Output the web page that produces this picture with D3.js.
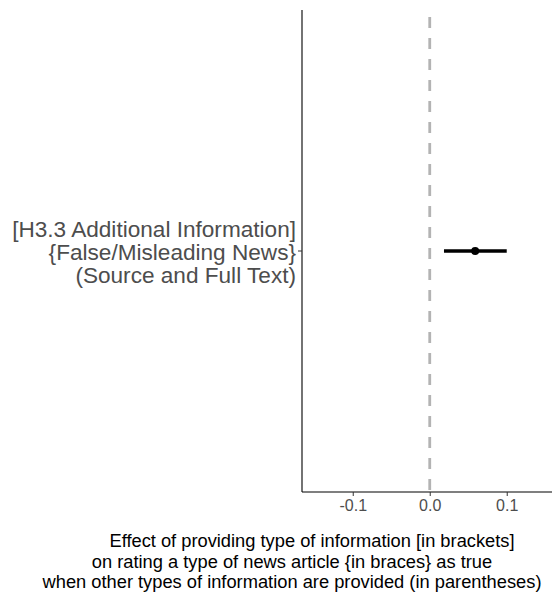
<!DOCTYPE html>
<html>
<head>
<meta charset="utf-8">
<script src="https://cdn.jsdelivr.net/npm/d3@7"></script>
<style>
  body { margin: 0; background: white; }
  svg { display: block; font-family: "Liberation Sans", Arial, sans-serif; }
</style>
</head>
<body>
<div id="chart"></div>
<script>
// Data
var labels = ["[H3.3 Additional Information]", "{False/Misleading News}", "(Source and Full Text)"];
var estimates = [0.059];
var lower = [0.0185];
var upper = [0.100];
var xTicks = [-0.1, 0.0, 0.1];
var xTickLabels = ["-0.1", "0.0", "0.1"];
var xTitle = [
    "Effect of providing type of information [in brackets]",
    "on rating a type of news article {in braces} as true",
    "when other types of information are provided (in parentheses)"
];

var W = 552, H = 592;
var mLeft = 302, mRight = 552, mTop = 10, mBottom = 492;

var svg = d3.select("#chart").append("svg")
    .attr("width", W)
    .attr("height", H);

var x = d3.scaleLinear().domain([-0.1659, 0.1588]).range([mLeft, mRight]);
var y = d3.scaleBand().domain([0]).range([mTop, mBottom]);

// zero reference line
svg.append("line")
    .attr("x1", x(0)).attr("x2", x(0))
    .attr("y1", mTop).attr("y2", mBottom)
    .attr("stroke", "#b3b3b3")
    .attr("stroke-width", 2.8)
    .attr("stroke-dasharray", "11,10")
    .attr("stroke-dashoffset", -7);

// axes
var xAxis = svg.append("g")
    .attr("transform", "translate(0," + mBottom + ")")
    .call(d3.axisBottom(x).tickValues(xTicks).tickSize(4).tickPadding(4)
          .tickFormat(function(d, i) { return xTickLabels[i]; }));
xAxis.select(".domain").attr("stroke", "#000").attr("stroke-width", 1.1).attr("d", "M" + mLeft + ",0H" + mRight);
xAxis.selectAll(".tick line").attr("stroke", "#333");
xAxis.selectAll(".tick text")
    .attr("fill", "#4d4d4d")
    .style("font-size", "16px")
    .style("font-family", "Liberation Sans, Arial, sans-serif");

svg.append("line")
    .attr("x1", mLeft).attr("x2", mLeft)
    .attr("y1", mTop).attr("y2", mBottom)
    .attr("stroke", "#000").attr("stroke-width", 1.1);

var cy = y(0) + y.bandwidth() / 2;
svg.append("line")
    .attr("x1", mLeft - 4).attr("x2", mLeft)
    .attr("y1", cy).attr("y2", cy)
    .attr("stroke", "#333");

// y label
var lab = svg.append("text")
    .attr("text-anchor", "end")
    .attr("fill", "#4d4d4d")
    .style("font-size", "22.6px");
labels.forEach(function(t, i) {
    lab.append("tspan")
        .attr("x", mLeft - 6)
        .attr("y", cy + (i - 1) * 23 + 9)
        .text(t);
});

// estimate and interval
estimates.forEach(function(d, i) {
    svg.append("line")
        .attr("x1", x(lower[i])).attr("x2", x(upper[i]))
        .attr("y1", cy).attr("y2", cy)
        .attr("stroke", "#000")
        .attr("stroke-width", 3.6);
    svg.append("circle")
        .attr("cx", x(d)).attr("cy", cy)
        .attr("r", 4)
        .attr("fill", "#000");
});

// x title (first line sits a bit right in the original)
var titleShift = [20, 0, 0];
var tt = svg.append("text")
    .attr("text-anchor", "middle")
    .attr("fill", "#000")
    .style("font-size", "18.3px");
xTitle.forEach(function(t, i) {
    tt.append("tspan")
        .attr("x", 292 + titleShift[i])
        .attr("y", 547 + i * 20.5)
        .text(t);
});
</script>
</body>
</html>
